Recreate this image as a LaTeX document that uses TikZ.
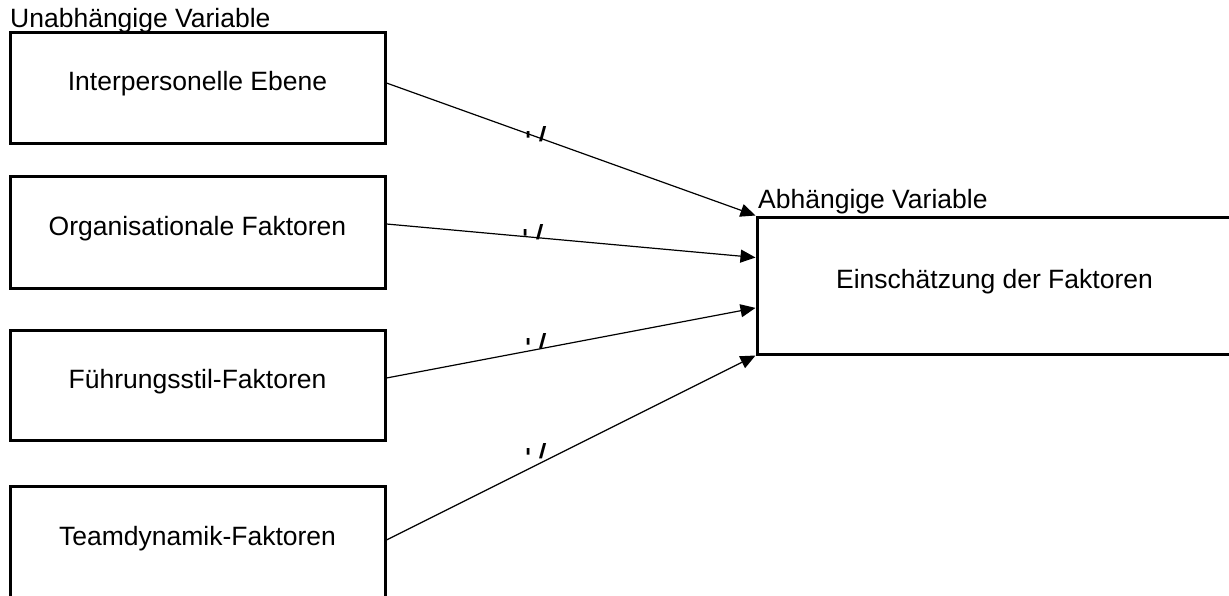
\documentclass[tikz,border=0pt]{standalone}
\usepackage{fontspec}
\setmainfont{Liberation Sans}
\usetikzlibrary{arrows.meta,calc}
\newcommand{\pmlab}[3]{%
  \begin{scope}
    \clip (#2-2,#3+5) -- (#2-2,#3-10) -- (#2+21,#3-10) -- (#2+21,#3-15) -- (#2+30,#3-15) -- (#2+30,#3+5) -- cycle;
    \node[pmtext] (#1) at (#2,#3) {+/-};
  \end{scope}}
\begin{document}
\begin{tikzpicture}[x=1pt,y=-1pt,
  box/.style={draw, line width=3pt, fill=white, minimum width=375pt, minimum height=111pt,
    inner sep=0pt, text height=12pt, text depth=6pt, font=\fontsize{26.5}{30}\selectfont},
  varlabel/.style={anchor=base west, inner sep=0pt, font=\fontsize{26.5}{30}\selectfont},
  conn/.style={line width=1.2pt, -{Triangle[length=15pt,width=13pt]}},
  pmtext/.style={anchor=base west, inner sep=0pt, font=\fontsize{38}{40}\selectfont}]
\clip (0,0) rectangle (1229,595);
\fill[white] (0,0) rectangle (1229,595);
\node[varlabel] (uv) at (10,27) {Unabhängige Variable};
\node[varlabel] (av) at (758,208) {Abhängige Variable};
\node[box] (b1) at (197.5,87.5) {Interpersonelle Ebene};
\node[box, minimum height=112pt] (b2) at (197.5,232) {Organisationale Faktoren};
\node[box, minimum height=110pt] (b3) at (197.5,385) {Führungsstil-Faktoren};
\node[box, minimum height=112pt] (b4) at (197.5,542) {Teamdynamik-Faktoren};
\node[box, minimum width=475pt, minimum height=137pt] (t) at (994.5,285.5) {Einschätzung der Faktoren};
\draw[conn] ($(b1.east)+(0,-4.5)$) -- (t.north west);
\draw[conn] ($(b2.east)+(0,-8)$) -- ($(t.north west)!0.3!(t.south west)$);
\draw[conn] ($(b3.east)+(0,-7)$) -- ($(t.north west)!0.66!(t.south west)$);
\draw[conn] ($(b4.east)+(0,-2)$) -- (t.south west);
\pmlab{pm1}{517}{141}
\pmlab{pm2}{514}{239}
\pmlab{pm3}{517}{348}
\pmlab{pm4}{517}{458}
\end{tikzpicture}
\end{document}
